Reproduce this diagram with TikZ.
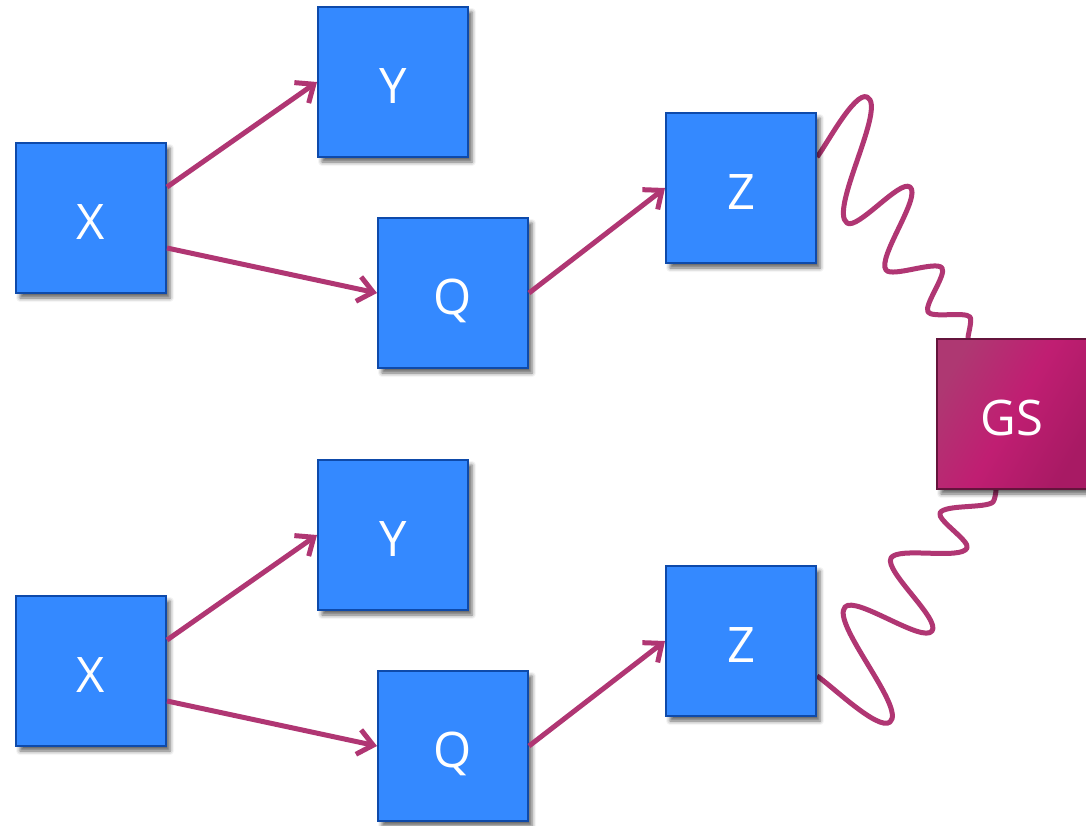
\documentclass[tikz,border=0pt]{standalone}
\usepackage{fontspec}
\setsansfont{Open Sans}
\usetikzlibrary{arrows.meta}
\usetikzlibrary{shadows.blur}
\usetikzlibrary{backgrounds}
\definecolor{boxblue}{RGB}{52,137,255}
\definecolor{boxline}{RGB}{14,74,170}
\definecolor{linkpink}{RGB}{176,54,115}
\definecolor{gsleft}{RGB}{174,56,114}
\definecolor{gsmid}{RGB}{192,30,114}
\definecolor{gsright}{RGB}{168,26,100}
\definecolor{gsline}{RGB}{100,20,60}
\tikzset{
	boxnode/.style = {
		rectangle,
		align=center,
		inner sep=0pt,
		minimum size=150pt,
		font=\sffamily\fontsize{49}{52}\selectfont,
		text height=42pt,
		text depth=0pt,
		text=white,
		line width=2pt,
		blur shadow={shadow xshift=4pt, shadow yshift=-5pt, shadow blur radius=4pt, shadow opacity=60}
	},
	node_blue/.style = {
		boxnode,
		draw=boxline,
		fill=boxblue
	},
	node_gs/.style = {
		boxnode,
		draw=gsline,
		left color=gsleft,
		right color=gsright,
		middle color=gsmid,
		shading angle=60
	},
	link/.style = {
		line width=5pt,
		linkpink
	},
	wave/.style = {
		-,
		line width=5pt,
		linkpink,
		looseness=0.45,
		line join=round
	},
}
\begin{document}
\begin{tikzpicture}[->,>={Straight Barb[length=15pt,width=25pt]}, x=1pt, y=1pt]
\useasboundingbox (0,0) rectangle (1086,-825);
% upper chain
\node [node_blue] (x1) at (91,-218) {X};
\node [node_blue] (y1) at (393,-82) {Y};
\node [node_blue] (q1) at (453,-293) {Q};
\node [node_blue] (z1) at (741,-188) {Z};
% lower chain
\node [node_blue] (x2) at (91,-671) {X};
\node [node_blue] (y2) at (393,-535) {Y};
\node [node_blue] (q2) at (453,-746) {Q};
\node [node_blue] (z2) at (741,-641) {Z};
\node [node_gs] (gs) at (1012,-414) {GS};

\draw [link] ([yshift=31pt]x1.east) -- (y1.west);
\draw [link] ([yshift=-30pt]x1.east) -- (q1.west);
\draw [link] (q1.east) -- (z1.west);
\draw [link] ([yshift=31pt]x2.east) -- (y2.west);
\draw [link] ([yshift=-30pt]x2.east) -- (q2.west);
\draw [link] (q2.east) -- (z2.west);

\begin{scope}[on background layer]
\draw [wave] ([yshift=31pt]z1.east) to[out=51,in=156] (867,-97)
	to[out=-24,in=145] (847,-223) to[out=-35,in=142] (910,-187)
	to[out=-38,in=128] (886,-270) to[out=-52,in=127] (942,-268)
	to[out=-53,in=123] (928,-312) to[out=-57,in=130] (970,-317)
	to[out=-50,in=90] ([xshift=-44pt]gs.north);
\draw [wave] ([xshift=-16pt]gs.south) to[out=-90,in=43] (993,-502)
	to[out=-137,in=65] (940,-513) to[out=-115,in=65] (967,-548)
	to[out=-115,in=60] (891,-558) to[out=-120,in=53] (932,-631)
	to[out=-127,in=48] (845,-607) to[out=-132,in=40] (890,-722)
	to[out=-140,in=-32] ([yshift=-35pt]z2.east);
\end{scope}
\end{tikzpicture}
\end{document}
